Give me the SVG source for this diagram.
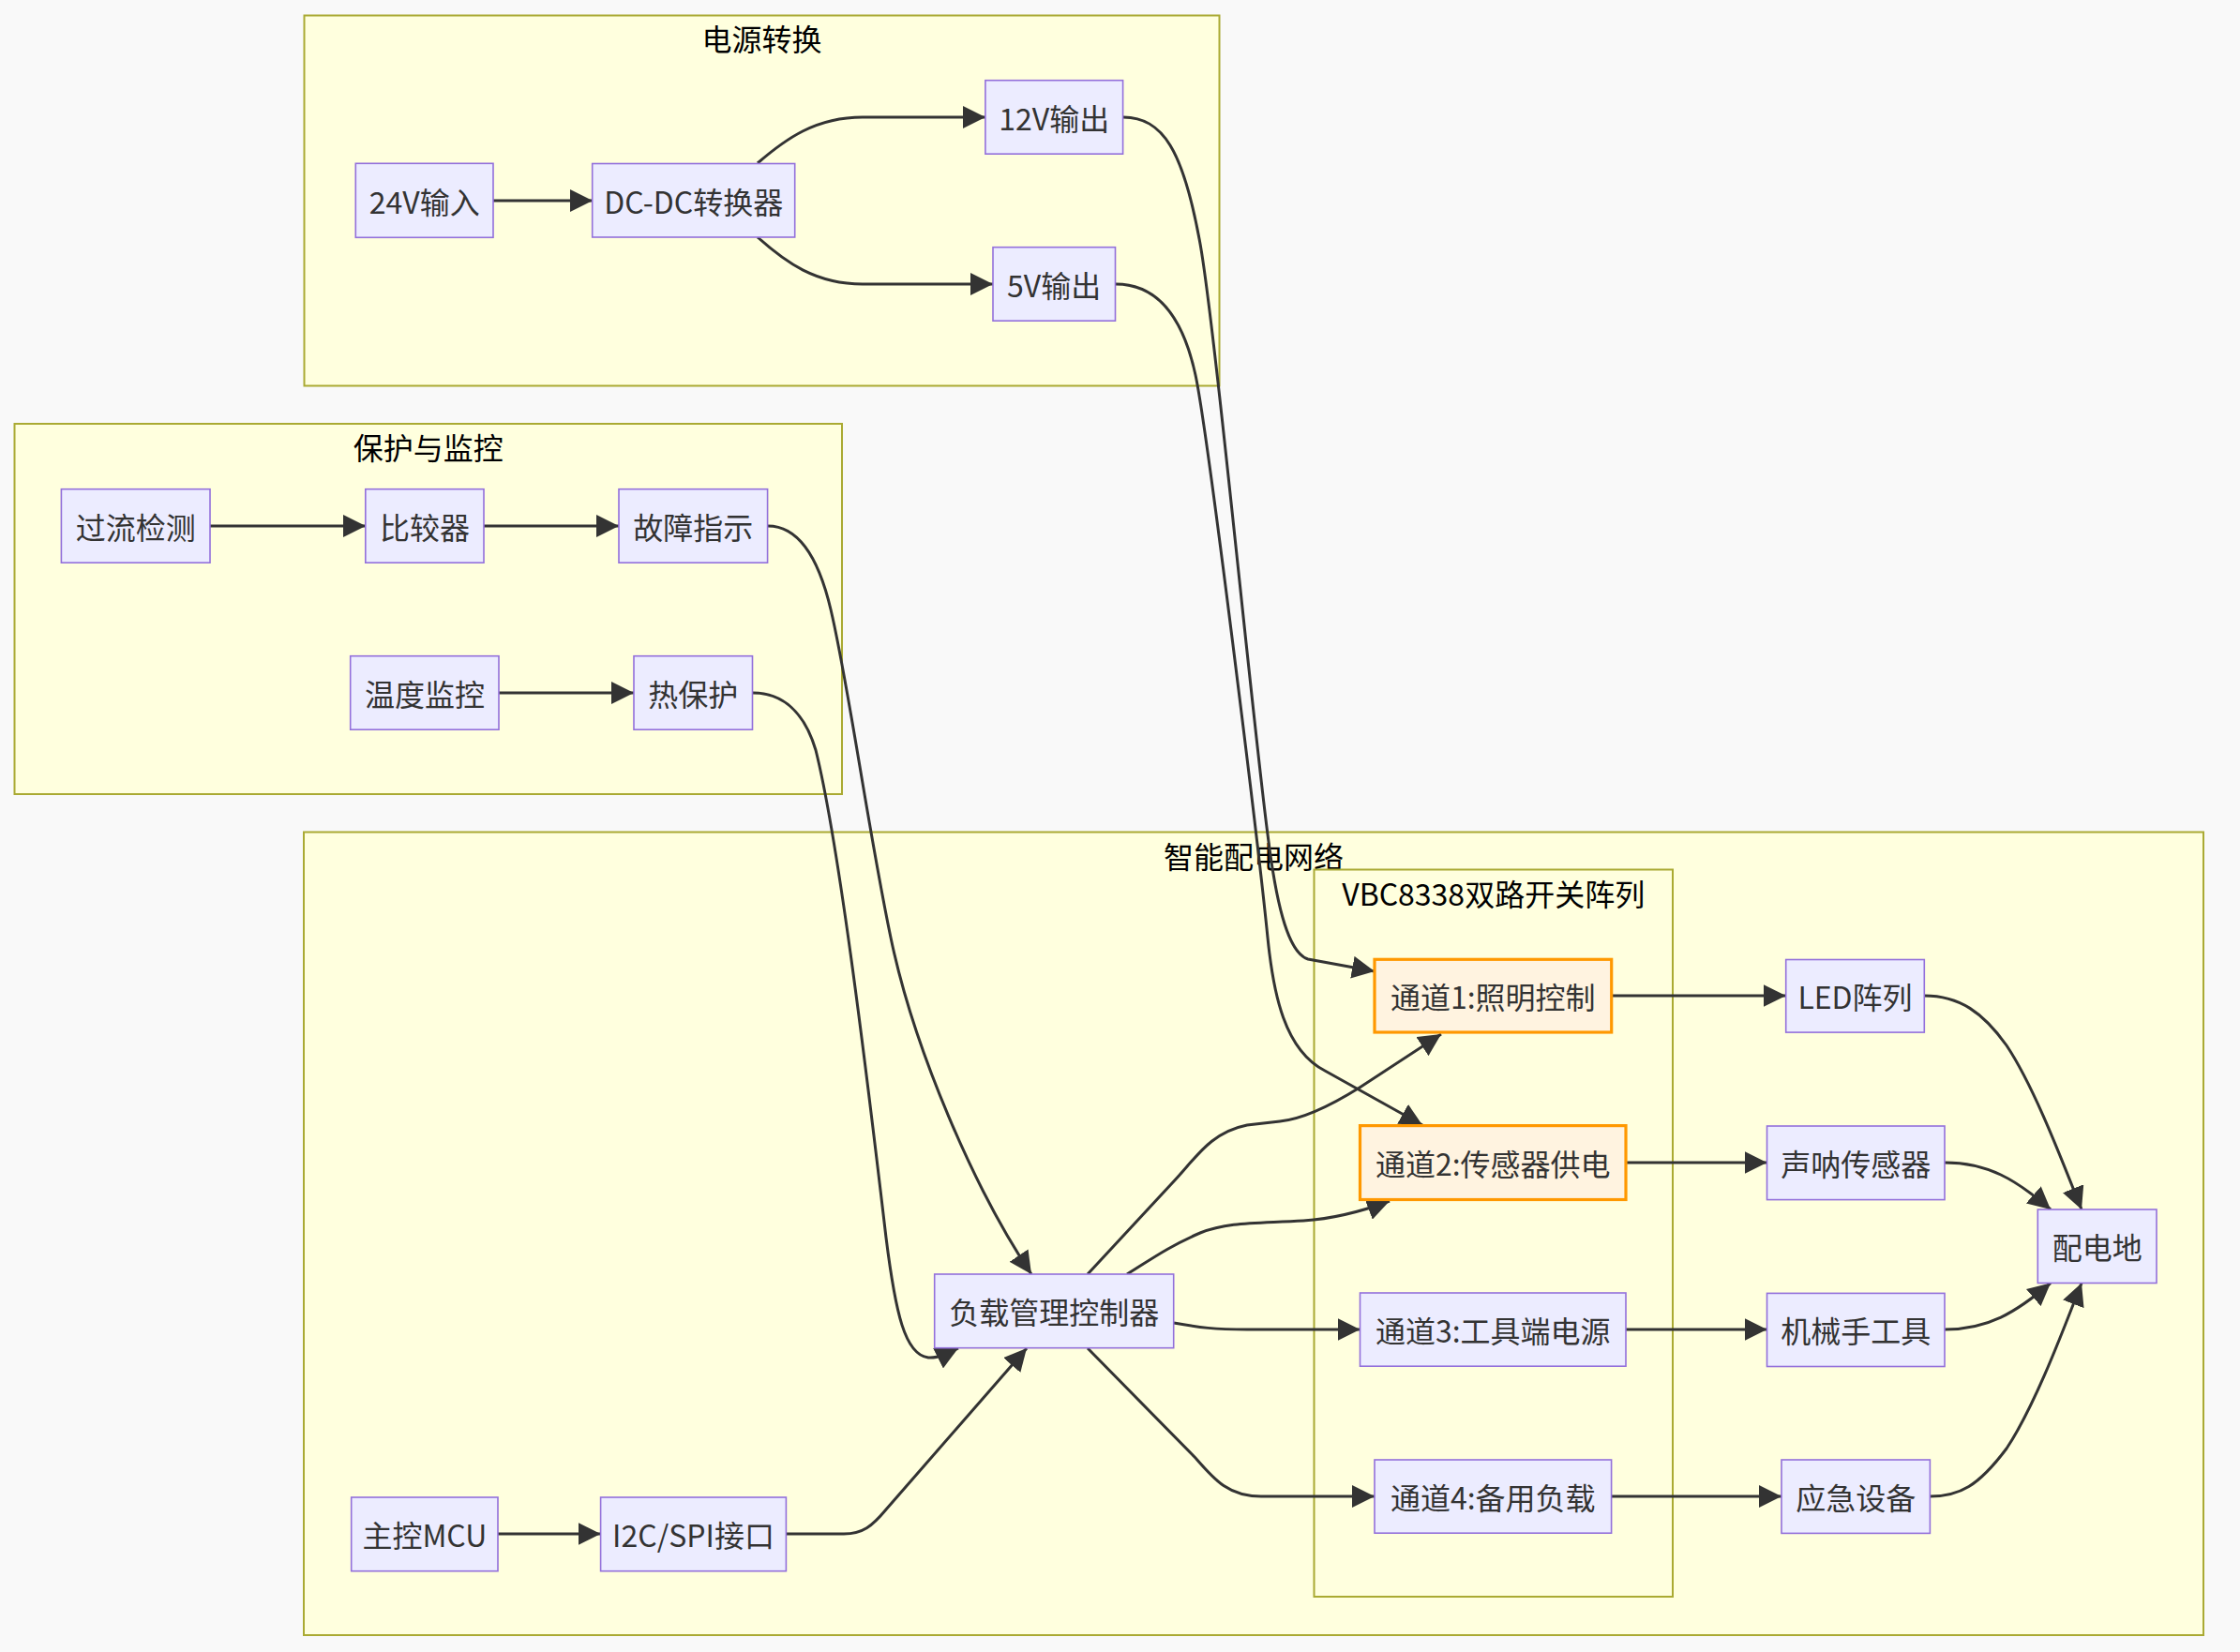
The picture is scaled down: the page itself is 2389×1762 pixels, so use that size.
<svg xmlns="http://www.w3.org/2000/svg" width="2389" height="1762" viewBox="0 0 2389 1762">
<style>
.cluster rect{fill:#ffffde;stroke:#aaaa33;stroke-width:2}
.ctitle{font-family:"Noto Sans CJK SC",sans-serif;font-size:32px;fill:#000;text-anchor:middle}
.node rect{fill:#ececff;stroke:#9370db;stroke-width:1.6}
.node.hl rect{fill:#fff3e0;stroke:#ff9800;stroke-width:3.2}
.node text{font-family:"Noto Sans CJK SC",sans-serif;font-size:32px;fill:#333;text-anchor:middle}
.edges path{fill:none;stroke:#333;stroke-width:3;marker-end:url(#arrow)}
</style>
<defs>
<marker id="arrow" viewBox="0 0 10 10" refX="10" refY="5" markerWidth="24" markerHeight="24" markerUnits="userSpaceOnUse" orient="auto">
<path d="M0,0 L10,5 L0,10 z" fill="#333"/>
</marker>
</defs>
<rect x="0" y="0" width="2389" height="1762" fill="#f9f9f9"/>

<g id="clusters">
<g class="cluster" id="cluster-power"><rect x="324.5" y="16.5" width="976" height="395"/><text class="ctitle" x="812.5" y="54">电源转换</text></g>
<g class="cluster" id="cluster-protect"><rect x="15.5" y="452" width="882.5" height="395"/><text class="ctitle" x="456.7" y="490">保护与监控</text></g>
<g class="cluster" id="cluster-net"><rect x="324" y="887.5" width="2026" height="856.5"/><text class="ctitle" x="1337" y="925.5">智能配电网络</text></g>
<g class="cluster" id="cluster-vbc"><rect x="1401.5" y="927.5" width="382.5" height="775.5"/><text class="ctitle" x="1592.7" y="966">VBC8338双路开关阵列</text></g>
</g>

<g class="edges" id="edges">
<path d="M526,214 L632,214"/>
<path d="M808,174 C838,148 870,125 920,125 L1051,125"/>
<path d="M808,253 C838,280 870,303 920,303 L1059,303"/>
<path d="M1198,125 C1240,125 1262,160 1280,260 C1296,350 1335,760 1352,890 C1360,955 1372,1016 1395,1023 L1466,1036"/>
<path d="M1190,303 C1235,303 1262,340 1275,400 C1288,460 1342,900 1352,1000 C1358,1060 1370,1120 1413,1142 L1517,1200"/>
<path d="M224,561 L390,561"/>
<path d="M516,561 L660,561"/>
<path d="M532,739 L676,739"/>
<path d="M819,561 C852,561 873,595 886,650 C905,730 925,880 950,1000 C975,1120 1040,1270 1100,1359"/>
<path d="M803,739 C835,739 858,760 870,800 C895,900 925,1150 945,1320 C955,1400 965,1445 990,1448 C1000,1449 1012,1443 1022,1438"/>
<path d="M531,1636 L640.6,1636"/>
<path d="M838,1636 L900,1636 C920,1636 930,1628 945,1610 L1095,1438"/>
<path d="M1160,1359 L1250,1262 C1275,1236 1290,1208 1330,1200 L1365,1196 C1385,1194 1410,1185 1450,1160 L1537,1103"/>
<path d="M1202,1359 C1225,1345 1245,1330 1280,1315 C1310,1303 1340,1305 1390,1302 C1420,1300 1450,1293 1482,1281"/>
<path d="M1252,1411 C1280,1416 1295,1418 1330,1418 L1450.5,1418"/>
<path d="M1160,1438 L1275,1555 C1295,1578 1310,1596 1345,1596 L1466,1596"/>
<path d="M1718.7,1062 L1904.7,1062"/>
<path d="M1734,1240 L1884.5,1240"/>
<path d="M1734,1418 L1884.5,1418"/>
<path d="M1718.6,1596 L1900,1596"/>
<path d="M2052.3,1062 C2090,1062 2115,1080 2140,1115 C2170,1160 2200,1240 2220,1290"/>
<path d="M2074,1240 C2120,1240 2150,1258 2187,1290"/>
<path d="M2074,1418 C2120,1418 2150,1400 2187,1368.5"/>
<path d="M2058.4,1596 C2090,1596 2110,1585 2140,1545 C2170,1500 2200,1420 2220,1368.5"/>
</g>

<g id="nodes">
<g class="node" id="n-24v"><rect x="379.3" y="174.3" width="146.7" height="79"/><text x="452.7" y="227.8">24V输入</text></g>
<g class="node" id="n-dcdc"><rect x="631.7" y="174.5" width="216" height="78.5"/><text x="739.7" y="227.8">DC-DC转换器</text></g>
<g class="node" id="n-12v"><rect x="1050.9" y="85.7" width="146.7" height="78.5"/><text x="1124.2" y="139">12V输出</text></g>
<g class="node" id="n-5v"><rect x="1059" y="263.7" width="130.5" height="78.5"/><text x="1124.2" y="317">5V输出</text></g>
<g class="node" id="n-oc"><rect x="65.4" y="521.7" width="158.6" height="78.5"/><text x="144.7" y="575">过流检测</text></g>
<g class="node" id="n-cmp"><rect x="389.8" y="521.7" width="126.2" height="78.5"/><text x="452.9" y="575">比较器</text></g>
<g class="node" id="n-fault"><rect x="660" y="521.7" width="158.6" height="78.5"/><text x="739.3" y="575">故障指示</text></g>
<g class="node" id="n-temp"><rect x="373.7" y="699.7" width="158.3" height="78.5"/><text x="452.9" y="753">温度监控</text></g>
<g class="node" id="n-thermal"><rect x="676" y="699.7" width="126.5" height="78.5"/><text x="739.3" y="753">热保护</text></g>
<g class="node" id="n-lmc"><rect x="996.7" y="1359" width="255" height="78.7"/><text x="1124.2" y="1412.4">负载管理控制器</text></g>
<g class="node" id="n-mcu"><rect x="374.7" y="1597" width="156.3" height="78.7"/><text x="452.9" y="1650.4">主控MCU</text></g>
<g class="node" id="n-i2c"><rect x="640.6" y="1597" width="197.8" height="78.7"/><text x="739.5" y="1650.4">I2C/SPI接口</text></g>
<g class="node hl" id="n-ch1"><rect x="1466" y="1023.3" width="252.7" height="77.7"/><text x="1592.3" y="1076.2">通道1:照明控制</text></g>
<g class="node hl" id="n-ch2"><rect x="1450.5" y="1200.6" width="283.5" height="78.9"/><text x="1592.3" y="1254">通道2:传感器供电</text></g>
<g class="node" id="n-ch3"><rect x="1450.5" y="1379" width="283.5" height="78.2"/><text x="1592.3" y="1432">通道3:工具端电源</text></g>
<g class="node" id="n-ch4"><rect x="1466" y="1557" width="252.6" height="78.2"/><text x="1592.3" y="1610">通道4:备用负载</text></g>
<g class="node" id="n-led"><rect x="1904.7" y="1023.5" width="147.6" height="77.6"/><text x="1978.5" y="1076.2">LED阵列</text></g>
<g class="node" id="n-sonar"><rect x="1884.5" y="1201" width="189.5" height="78.6"/><text x="1979.3" y="1254">声呐传感器</text></g>
<g class="node" id="n-arm"><rect x="1884.5" y="1379.4" width="189.5" height="78.1"/><text x="1979.3" y="1432">机械手工具</text></g>
<g class="node" id="n-emg"><rect x="1900" y="1557" width="158.4" height="78.4"/><text x="1979.2" y="1610">应急设备</text></g>
<g class="node" id="n-gnd"><rect x="2173.3" y="1290" width="126.7" height="78.5"/><text x="2236.7" y="1343.3">配电地</text></g>
</g>
</svg>
